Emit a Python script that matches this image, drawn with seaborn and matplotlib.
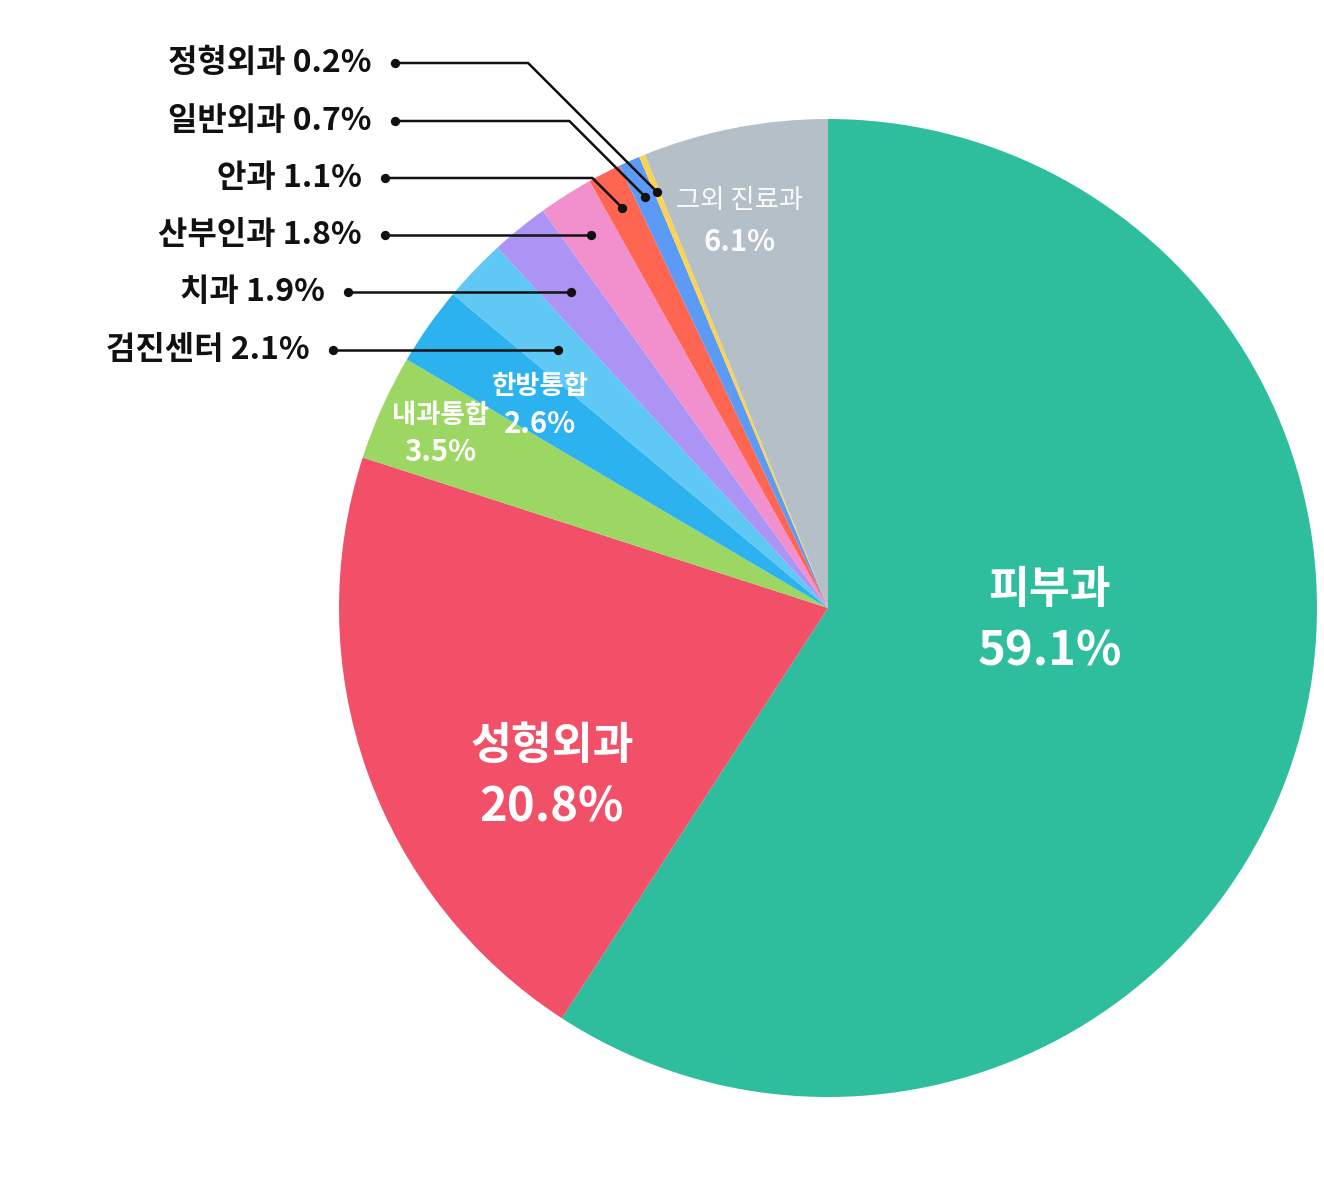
import numpy as np
import matplotlib
matplotlib.use("Agg")
import matplotlib.pyplot as plt
import seaborn as sns

# ---- data ----
categories = ["피부과", "성형외과", "내과통합", "한방통합", "검진센터", "치과",
              "산부인과", "안과", "일반외과", "정형외과", "그외 진료과"]
shares = [59.1, 20.8, 3.5, 2.6, 2.1, 1.9, 1.8, 1.1, 0.7, 0.2, 6.1]
colors_hex = ["#2EBE9D", "#F25068", "#9DD763", "#2CB2EE", "#5FC8F4", "#AC94F4",
              "#F290CE", "#FF6652", "#5B9BF5", "#FDD452", "#B4BFC7"]

inside = {"피부과": ("big", 1050, 622), "성형외과": ("big", 552, 778),
          "그외 진료과": ("mid", 740, 222)}
small_inside = [("내과통합", 0.87), ("한방통합", 0.72)]
outside_order = ["정형외과", "일반외과", "안과", "산부인과", "치과", "검진센터"]
outside_text_end = [372, 372, 362, 362, 325, 310]
outside_y = [63, 121, 178, 235, 292, 350]

sns.set_theme(style="white")
plt.rcParams['font.family'] = ['Noto Sans CJK KR', 'DejaVu Sans']

palette = sns.color_palette(colors_hex)

W, H = 1324, 1188
fig = plt.figure(figsize=(W / 100, H / 100), dpi=100)
ax = fig.add_axes([0, 0, 1, 1])

cx, cy, R = 828, 608, 489
wedges, _ = ax.pie(shares, colors=palette, startangle=-90, counterclock=True,
                   center=(cx, cy), radius=R, frame=True,
                   wedgeprops=dict(linewidth=0))
ax.set_xlim(0, W)
ax.set_ylim(H, 0)
ax.set_aspect('equal')
ax.axis('off')


def mid_angle(i):
    w = wedges[i]
    return np.deg2rad((w.theta1 + w.theta2) / 2)


def wedge_point(i, frac):
    mid = mid_angle(i)
    return cx + frac * R * np.cos(mid), cy + frac * R * np.sin(mid)


def fmt(v):
    return f"{v:.1f}%"

# big inside labels
for name, (kind, x, y) in inside.items():
    i = categories.index(name)
    if kind == "big":
        ax.text(x, y - 32, name, ha='center', va='center', fontsize=32,
                fontweight='bold', color='white')
        ax.text(x, y + 30, fmt(shares[i]), ha='center', va='center', fontsize=34,
                fontweight='bold', color='white')
    else:
        ax.text(x, y - 21, name, ha='center', va='center', fontsize=19,
                fontweight='medium', color='white', alpha=0.95)
        ax.text(x, y + 20, fmt(shares[i]), ha='center', va='center', fontsize=21,
                fontweight='bold', color='white', alpha=0.95)

# small inside labels placed on their wedges
for name, frac in small_inside:
    i = categories.index(name)
    x, y = wedge_point(i, frac)
    ax.text(x, y - 18, name, ha='center', va='center', fontsize=19,
            fontweight='bold', color='white')
    ax.text(x, y + 19, fmt(shares[i]), ha='center', va='center', fontsize=21,
            fontweight='bold', color='white')

# outside labels with leader lines
for name, xe, ly in zip(outside_order, outside_text_end, outside_y):
    i = categories.index(name)
    ax.text(xe, ly, f"{name} {fmt(shares[i])}", ha='right', va='center',
            fontsize=23, fontweight='bold', color='#111111')
    dx0 = xe + 23
    mid = mid_angle(i)
    r_need = (ly - cy) / np.sin(mid) / R
    if 0.74 <= r_need <= 0.93:
        px, py = wedge_point(i, r_need)
        xs, ys = [dx0, px], [ly, py]
    else:
        px, py = wedge_point(i, 0.92)
        dy = py - ly
        kx = max(px - abs(dy), dx0 + 20)
        xs, ys = [dx0, kx, px], [ly, ly, py]
    ax.plot(xs, ys, color='#111111', lw=1.8,
            solid_capstyle='round', solid_joinstyle='round', zorder=5)
    ax.scatter([dx0, px], [ly, py], s=45, color='#111111', zorder=6, linewidths=0)

fig.savefig("out.png", dpi=100, facecolor='white')
